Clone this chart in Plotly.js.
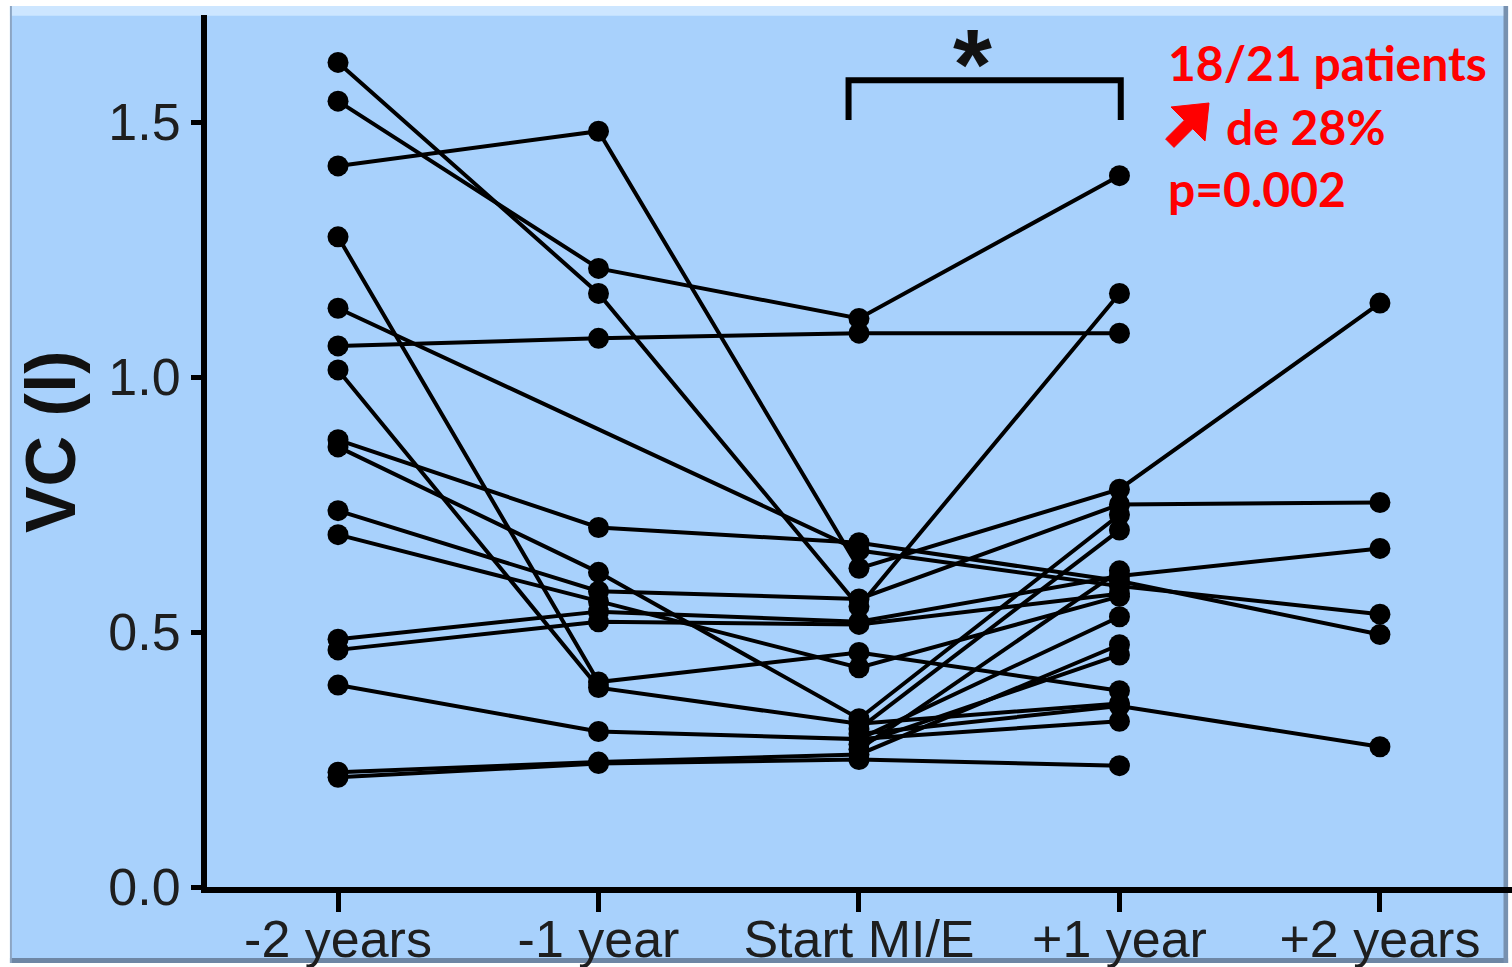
<!DOCTYPE html>
<html>
<head>
<meta charset="utf-8">
<script src="https://cdn.plot.ly/plotly-3.0.1.min.js"></script>
<style>
html,body{margin:0;padding:0;background:#ffffff;}
#chart{width:1512px;height:967px;}
</style>
</head>
<body>
<div id="chart"></div>
<script>
// Time points (x categories)
const timepoints = ['-2 years', '-1 year', 'Start MI/E', '+1 year', '+2 years'];
// VC (l) per patient at each time point (null = not measured)
const minus2 = [1.617, 1.541, 1.414, 1.275, 1.135, 1.061, 1.014, 0.877, 0.863, 0.738, 0.691, 0.486, 0.465, 0.396, 0.225, 0.215, null, null, null, null, null];
const minus1 = [1.164, 1.213, 1.482, 0.402, null, 1.076, 0.391, 0.705, 0.617, 0.580, 0.560, 0.540, 0.520, 0.305, 0.245, 0.242, null, null, null, null, null];
const startMIE = [0.550, 1.115, 0.625, 0.460, 0.660, 1.086, 0.320, 0.675, 0.330, 0.565, 0.430, 0.520, 0.515, 0.290, 0.260, 0.250, 0.310, 0.270, 0.280, 0.300, 0.290];
const plus1 = [1.164, 1.395, 0.780, 0.385, 0.590, 1.086, 0.360, 0.600, 0.730, 0.750, 0.570, 0.610, 0.575, 0.530, 0.475, 0.238, 0.700, 0.620, 0.455, 0.355, 0.325];
const plus2 = [null, null, 1.145, null, 0.535, null, null, 0.495, null, 0.754, null, 0.664, null, null, null, null, null, null, null, 0.275, null];
const yTicks = [0, 0.5, 1.0, 1.5];
const yTickText = ['0.0', '0.5', '1.0', '1.5'];

const series = [minus2, minus1, startMIE, plus1, plus2];
const xIdx = timepoints.map((_, j) => j);

const traces = minus2.map((_, i) => ({
  x: xIdx,
  y: series.map(s => s[i]),
  type: 'scatter',
  mode: 'lines+markers',
  connectgaps: true,
  line: {color: '#000000', width: 4},
  marker: {color: '#000000', size: 21},
  hoverinfo: 'skip',
  showlegend: false
}));

const BLUE = 'rgb(168,209,252)';
const tickFont = {family: 'Liberation Sans, Arial, sans-serif', size: 52, color: '#1e1e1e'};

// helper: pixel -> paper coordinates (plot area: left 207, width 1305, bottom 887, height 872)
const px = v => ((v - 207) / 1305).toFixed(5);
const py = v => ((887 - v) / 872).toFixed(5);
const arrowPts = [[1209,103],[1171,107],[1184.3,120.3],[1165.6,139],[1174,147.4],[1192.7,128.7],[1205,141]];
const arrowPath = 'M ' + arrowPts.map(p => px(p[0]) + ' ' + py(p[1])).join(' L ') + ' Z';

const layout = {
  width: 1512,
  height: 967,
  margin: {l: 207, r: 0, t: 15, b: 80, pad: 0},
  paper_bgcolor: '#ffffff',
  plot_bgcolor: 'rgba(0,0,0,0)',
  showlegend: false,
  xaxis: {
    range: [-0.503, 4.507],
    tickvals: xIdx,
    ticktext: timepoints,
    showgrid: false, zeroline: false,
    showline: true, linewidth: 6, linecolor: '#000',
    ticks: 'outside', ticklen: 19, tickwidth: 5, tickcolor: '#000',
    ticklabelstandoff: -17,
    tickfont: tickFont,
    fixedrange: true
  },
  yaxis: {
    range: [0, 1.71],
    tickvals: yTicks,
    ticktext: yTickText,
    showgrid: false, zeroline: false,
    showline: true, linewidth: 6, linecolor: '#000',
    ticks: 'outside', ticklen: 10, tickwidth: 5, tickcolor: '#000',
    tickfont: tickFont,
    fixedrange: true
  },
  shapes: [
    // blue panel
    {type: 'rect', xref: 'paper', yref: 'paper', x0: -0.151, x1: 0.997, y0: -0.0872, y1: 1.0103,
     fillcolor: BLUE, line: {width: 0}, layer: 'below'},
    // lighter top bevel
    {type: 'rect', xref: 'paper', yref: 'paper', x0: -0.151, x1: 0.997, y0: 0.999, y1: 1.0103,
     fillcolor: 'rgb(205,230,255)', line: {width: 0}, layer: 'below'},
    // darker bottom bevel
    {type: 'rect', xref: 'paper', yref: 'paper', x0: -0.151, x1: 0.997, y0: -0.0872, y1: -0.0815,
     fillcolor: 'rgb(110,135,165)', line: {width: 0}, layer: 'below'},
    // darker right bevel
    {type: 'rect', xref: 'paper', yref: 'paper', x0: 0.9935, x1: 0.997, y0: -0.0872, y1: 1.0103,
     fillcolor: 'rgb(120,145,175)', line: {width: 0}, layer: 'below'},
    // left edge
    {type: 'rect', xref: 'paper', yref: 'paper', x0: -0.151, x1: -0.1495, y0: -0.0872, y1: 1.0103,
     fillcolor: 'rgb(140,165,195)', line: {width: 0}, layer: 'below'},
    // significance bracket between Start MI/E and +1 year
    {type: 'path', xref: 'x', yref: 'y',
     path: 'M 1.96 1.504 L 1.96 1.582 L 3.005 1.582 L 3.005 1.504',
     line: {color: '#000', width: 6}},
    // heavy red north-east arrow
    {type: 'path', xref: 'paper', yref: 'paper', path: arrowPath,
     fillcolor: '#ff0000', line: {color: '#ff0000', width: 1}}
  ],
  annotations: [
    {text: '<b>*</b>', xref: 'x', yref: 'y', x: 2.434, y: 1.614, showarrow: false,
     xanchor: 'center', yanchor: 'middle',
     font: {family: 'Liberation Sans, Arial, sans-serif', size: 100, color: '#111'}},
    {text: '<b>VC (l)</b>', xref: 'paper', yref: 'paper', x: -0.119, y: 0.511, textangle: -90,
     showarrow: false, xanchor: 'center', yanchor: 'middle',
     font: {family: 'Liberation Sans, Arial, sans-serif', size: 70, color: '#111'}},
    {text: '<b>18/21 patients</b>', xref: 'paper', yref: 'paper', x: 0.7345, y: 0.946,
     showarrow: false, xanchor: 'left', yanchor: 'middle',
     font: {family: 'Lato, Noto Sans, sans-serif', size: 48, color: '#ff0000'}},
    {text: '<b>de 28%</b>', xref: 'paper', yref: 'paper', x: 0.779, y: 0.8716,
     showarrow: false, xanchor: 'left', yanchor: 'middle',
     font: {family: 'Lato, Noto Sans, sans-serif', size: 48, color: '#ff0000'}},
    {text: '<b>p=0.002</b>', xref: 'paper', yref: 'paper', x: 0.7345, y: 0.801,
     showarrow: false, xanchor: 'left', yanchor: 'middle',
     font: {family: 'Lato, Noto Sans, sans-serif', size: 48, color: '#ff0000'}}
  ]
};

Plotly.newPlot('chart', traces, layout, {displayModeBar: false, staticPlot: true});
</script>
</body>
</html>
